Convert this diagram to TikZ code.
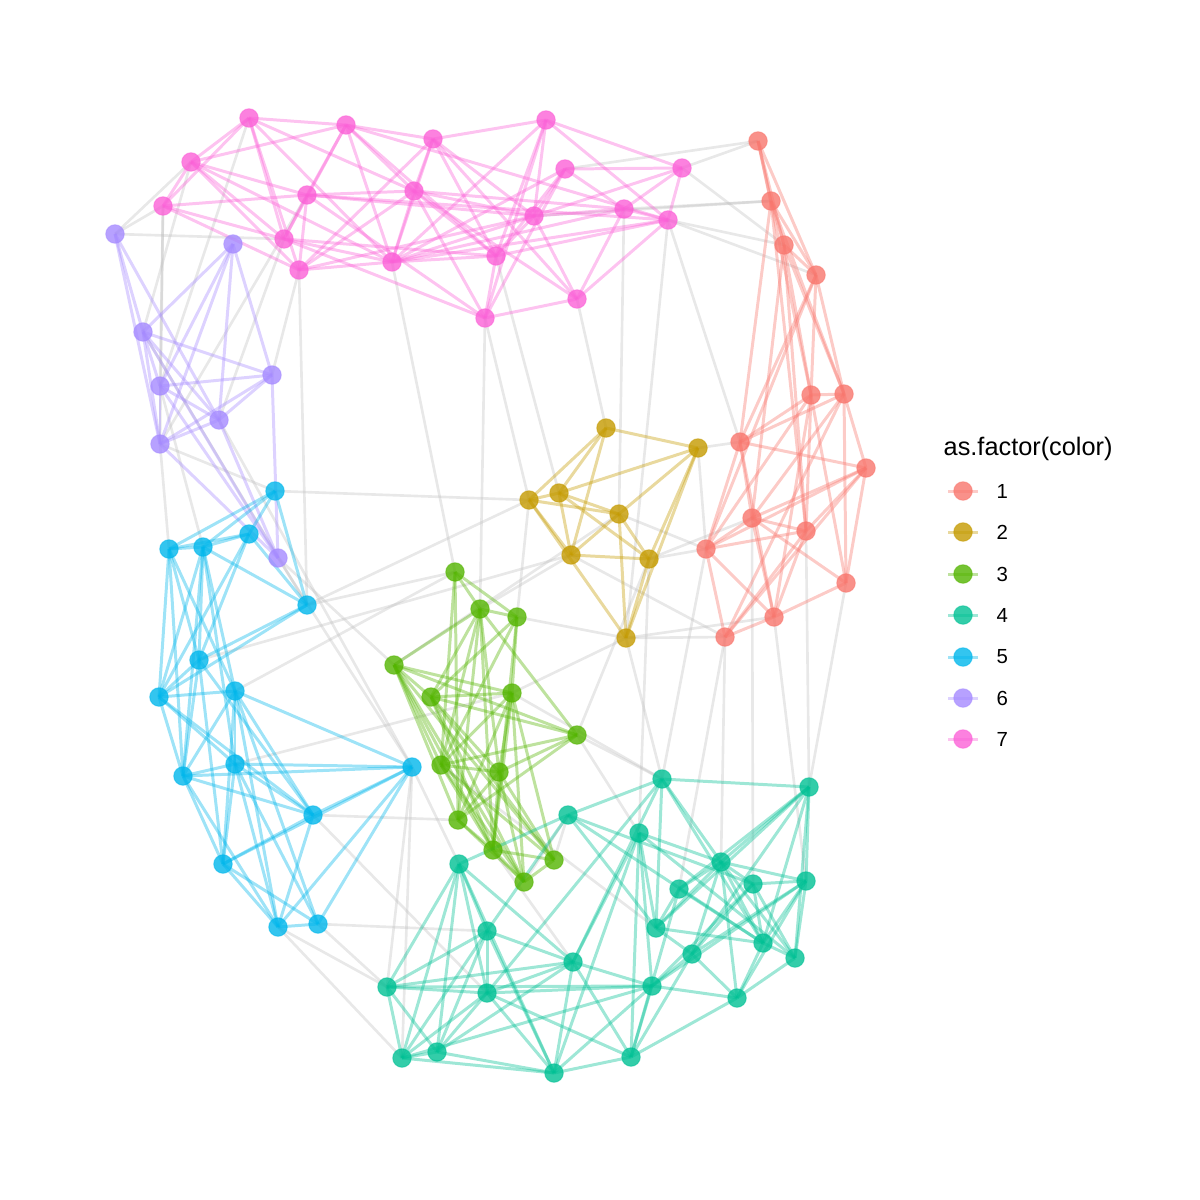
\documentclass[tikz,border=0pt]{standalone}
\usepackage{fontspec}
\setmainfont{Liberation Sans}
\pgfdeclarelayer{bg}
\pgfsetlayers{bg,main}
\definecolor{c1}{HTML}{F8766D}
\definecolor{c2}{HTML}{C49A00}
\definecolor{c3}{HTML}{53B400}
\definecolor{c4}{HTML}{00C094}
\definecolor{c5}{HTML}{00B6EB}
\definecolor{c6}{HTML}{A58AFF}
\definecolor{c7}{HTML}{FB61D7}
\definecolor{eg}{HTML}{BDBDBD}
\tikzset{
  dot/.style={circle,inner sep=0pt,minimum size=0.185cm,fill=#1,fill opacity=0.8,draw=#1,draw opacity=0.5,line width=0.3pt},
  edg/.style={draw=#1,draw opacity=0.38,line width=0.85pt},
  gedge/.style={draw=eg,draw opacity=0.35,line width=0.75pt},
}
\begin{document}
\begin{tikzpicture}[x=0.01cm,y=-0.01cm]
\useasboundingbox (0,0) rectangle (1200,1200);
% nodes
\foreach \n/\x/\y in {p1/249/118,p2/346/125,p3/433/139,p4/546/120,p5/191/162,p6/565/169,p7/682/168,p8/163/206,p9/307/195,p10/414/191,p11/534/216,p12/624/209,p13/668/220,p14/284/239,p15/299/270,p16/392/262,p17/496/256,p18/485/318,p19/577/299}
  \node[dot=c7] (\n) at (\x,\y) {};
\foreach \n/\x/\y in {v1/115/234,v2/233/244,v3/143/332,v4/160/386,v5/272/375,v6/219/420,v7/160/444,v8/278/558}
  \node[dot=c6] (\n) at (\x,\y) {};
\foreach \n/\x/\y in {b1/275/491,b2/249/534,b3/169/549,b4/203/547,b5/307/605,b6/199/660,b7/159/697,b8/235/691,b9/183/776,b10/235/764,b11/412/767,b12/313/815,b13/223/864,b14/278/927,b15/318/924}
  \node[dot=c5] (\n) at (\x,\y) {};
\foreach \n/\x/\y in {g1/455/572,g2/480/609,g3/517/617,g4/394/665,g5/431/697,g6/512/693,g7/577/735,g8/441/765,g9/499/772,g10/458/820,g11/493/850,g12/554/860,g13/524/882}
  \node[dot=c3] (\n) at (\x,\y) {};
\foreach \n/\x/\y in {y1/606/428,y2/698/448,y3/529/500,y4/559/493,y5/619/514,y6/571/555,y7/649/559,y8/626/638}
  \node[dot=c2] (\n) at (\x,\y) {};
\foreach \n/\x/\y in {r1/758/141,r2/771/201,r3/784/245,r4/816/275,r5/811/395,r6/844/394,r7/740/442,r8/866/468,r9/752/518,r10/806/531,r11/706/549,r12/846/583,r13/774/617,r14/725/637}
  \node[dot=c1] (\n) at (\x,\y) {};
\foreach \n/\x/\y in {t1/662/779,t2/809/787,t3/568/815,t4/639/833,t5/721/862,t6/459/864,t7/753/884,t8/806/881,t9/679/889,t10/656/928,t11/487/931,t12/763/943,t13/795/958,t14/573/962,t15/692/954,t16/387/987,t17/487/993,t18/652/986,t19/737/998,t20/402/1058,t21/437/1052,t22/554/1073,t23/631/1057}
  \node[dot=c4] (\n) at (\x,\y) {};
\begin{pgfonlayer}{bg}
% grey inter-cluster edges
\foreach \a/\b in {p6/r1,p7/r1,p12/r2,p11/r2,p13/r3,p7/r3,p13/r4,
  v1/p8,v1/p5,v1/p14,p5/v3,p8/v4,p8/v7,p1/v4,p14/v6,p9/v7,p15/v5,
  p15/b5,p16/g1,p18/y3,p18/g2,p19/y1,p12/y5,p13/y8,p17/y4,p13/r7,
  v6/b11,v3/b5,v7/b3,v7/b1,v4/b4,v8/g4,v8/b11,
  b1/y3,b5/y3,b5/g1,b8/g1,b6/y6,b10/g6,
  b11/t16,b11/t20,b11/t6,b12/g10,b14/t16,b14/t20,b15/t11,b15/t16,b12/t17,
  g2/y6,g3/y3,g3/y8,g6/y8,g7/y7,g4/y5,g7/t1,g7/t4,g12/t3,g13/t3,g6/t1,g11/t14,g8/t10,
  y2/r7,y2/r11,y7/r11,y8/r14,y8/r13,y7/r9,y5/r11,y6/r14,
  r12/t2,r13/t8,r14/t5,r11/t1,r9/t7,r10/t2,r14/t9,y8/t1,y7/t4}
  \draw[gedge] (\a.center) -- (\b.center);
% cluster 7
\foreach \a/\b in {p1/p2,p1/p5,p1/p8,p1/p15,p1/p14,p1/p16,p1/p10,
  p2/p3,p2/p5,p2/p9,p2/p10,p2/p13,p2/p17,p2/p14,p2/p16,
  p3/p4,p3/p10,p3/p15,p3/p17,p3/p11,p3/p19,p3/p16,
  p4/p7,p4/p16,p4/p17,p4/p18,p4/p11,p4/p13,
  p5/p8,p5/p9,p5/p16,p5/p14,p5/p15,
  p6/p7,p6/p11,p6/p17,p6/p18,p6/p12,p6/p16,
  p7/p12,p7/p11,p7/p13,
  p8/p9,p8/p14,p8/p15,
  p9/p14,p9/p15,p9/p10,p9/p13,p9/p11,
  p10/p15,p10/p16,p10/p17,p10/p12,p10/p11,
  p11/p17,p11/p16,p11/p19,p11/p12,
  p12/p13,p12/p19,p12/p16,
  p13/p19,p13/p16,p13/p17,
  p14/p16,p14/p18,p14/p17,
  p15/p16,p15/p11,
  p16/p17,p17/p18,p18/p19,p18/p10,p18/p9,p19/p10}
  \draw[edg=c7] (\a.center) -- (\b.center);
% cluster 6
\foreach \a/\b in {v1/v3,v1/v7,v1/v6,v2/v3,v2/v4,v2/v7,v2/v6,v2/v5,
  v3/v5,v3/v4,v3/v7,v3/v6,v3/v8,v4/v5,v4/v7,v4/v6,v4/v8,v5/v7,v5/v6,v5/v8,v6/v7,v6/v8,v7/v8}
  \draw[edg=c6] (\a.center) -- (\b.center);
% cluster 5
\foreach \a/\b in {b1/b2,b1/b3,b1/b5,b1/b4,b2/b3,b2/b4,b2/b6,b2/b7,b2/b5,
  b3/b4,b3/b6,b3/b7,b3/b9,b3/b8,b4/b6,b4/b5,b4/b7,b4/b10,b4/b9,b4/b8,
  b5/b6,b5/b7,b6/b7,b6/b12,b6/b13,b6/b9,
  b7/b8,b7/b10,b7/b12,b7/b9,b8/b10,b8/b9,b8/b11,b8/b14,b8/b15,b8/b12,b8/b13,
  b9/b10,b9/b11,b9/b13,b9/b14,b9/b12,b10/b11,b10/b12,b10/b14,b10/b15,b10/b13,
  b11/b12,b11/b13,b11/b14,b11/b15,b12/b13,b12/b14,b13/b14,b13/b15,b14/b15}
  \draw[edg=c5] (\a.center) -- (\b.center);
% cluster 3
\foreach \a/\b in {g1/g2,g1/g3,g1/g8,g1/g10,g2/g3,g2/g4,g2/g5,g2/g8,g2/g9,g2/g10,g2/g7,g2/g11,
  g3/g5,g3/g6,g3/g8,g3/g11,g4/g6,g4/g7,g4/g8,g4/g10,g4/g11,g4/g13,g4/g12,g4/g5,
  g5/g6,g5/g7,g5/g9,g5/g11,g5/g13,g5/g12,g6/g8,g6/g9,g6/g10,g6/g11,g6/g12,g6/g13,
  g7/g8,g7/g9,g7/g10,g8/g9,g8/g11,g8/g13,g8/g12,g9/g10,g9/g11,g9/g12,g9/g13,
  g10/g11,g10/g13,g11/g12,g11/g13,g12/g13}
  \draw[edg=c3] (\a.center) -- (\b.center);
% cluster 2
\foreach \a/\b in {y1/y2,y1/y3,y1/y4,y1/y6,y2/y4,y2/y5,y2/y7,y2/y8,
  y3/y4,y3/y5,y3/y6,y3/y8,y4/y5,y4/y6,y4/y7,y5/y6,y5/y7,y5/y8,y6/y7,y7/y8}
  \draw[edg=c2] (\a.center) -- (\b.center);
% cluster 1
\foreach \a/\b in {r1/r2,r1/r3,r1/r4,r1/r5,r2/r3,r2/r4,r2/r6,r2/r7,r2/r10,
  r3/r4,r3/r5,r3/r6,r3/r9,r3/r10,r4/r5,r4/r6,r4/r7,r4/r11,
  r5/r6,r5/r7,r5/r10,r5/r12,r5/r13,r5/r11,r6/r7,r6/r8,r6/r9,r6/r12,r6/r14,
  r7/r8,r7/r9,r7/r11,r7/r13,r8/r9,r8/r10,r8/r11,r8/r12,r8/r14,
  r9/r10,r9/r11,r9/r12,r9/r13,r10/r11,r10/r14,r10/r13,r11/r13,r11/r14,r12/r13,r13/r14}
  \draw[edg=c1] (\a.center) -- (\b.center);
% cluster 4
\foreach \a/\b in {t1/t2,t1/t3,t1/t5,t1/t10,t1/t12,t1/t14,t1/t17,
  t2/t5,t2/t9,t2/t8,t2/t13,t2/t10,t2/t15,t2/t12,
  t3/t6,t3/t11,t3/t7,t3/t12,t3/t10,
  t4/t5,t4/t10,t4/t22,t4/t18,t4/t13,t4/t23,t4/t14,
  t5/t9,t5/t7,t5/t8,t5/t12,t5/t13,t5/t15,t5/t10,t5/t19,
  t6/t11,t6/t16,t6/t17,t6/t21,t6/t20,t6/t14,t6/t22,
  t7/t8,t7/t12,t7/t13,t7/t15,t7/t18,t8/t12,t8/t13,t8/t15,t8/t18,t8/t19,
  t9/t12,t9/t23,t9/t10,t10/t12,t10/t15,t11/t16,t11/t17,t11/t20,t11/t21,t11/t22,t11/t14,
  t12/t19,t12/t13,t13/t19,t14/t17,t14/t16,t14/t22,t14/t23,t14/t18,t14/t21,
  t15/t18,t15/t23,t15/t19,t16/t17,t16/t18,t16/t20,t16/t21,
  t17/t18,t17/t21,t17/t22,t17/t20,t17/t23,t18/t19,t18/t20,t18/t23,t18/t22,
  t19/t23,t20/t21,t20/t22,t21/t22,t22/t23}
  \draw[edg=c4] (\a.center) -- (\b.center);
\end{pgfonlayer}
% legend
\node[anchor=base west,font=\fontsize{7.2}{8}\selectfont,inner sep=0pt] (ltitle) at (943,455) {as.factor(color)};
\foreach \i/\c/\y in {1/c1/491,2/c2/532,3/c3/574,4/c4/615,5/c5/657,6/c6/698,7/c7/739}{
  \coordinate (ka\i) at (948,\y);
  \coordinate (kb\i) at (978,\y);
  \draw[edg=\c] (ka\i) -- (kb\i);
  \node[dot=\c] (key\i) at (963,\y) {};
  \node[anchor=west,font=\fontsize{5.8}{7}\selectfont,inner sep=0pt] (lab\i) at (996,\y) {\i};
}
\end{tikzpicture}
\end{document}
